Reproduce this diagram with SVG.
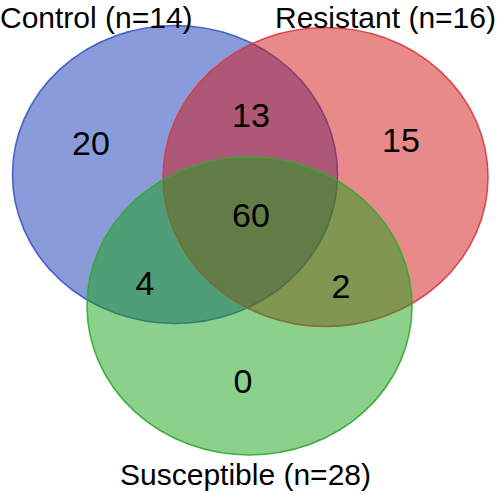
<svg xmlns="http://www.w3.org/2000/svg" width="500" height="494" viewBox="0 0 500 494">
<style>
.set{stroke-width:1.6}
.lbl{font-family:"Liberation Sans",Arial,sans-serif;font-size:30px;fill:#000}
.num{font-family:"Liberation Sans",Arial,sans-serif;font-size:34px;fill:#000;text-anchor:middle}
</style>
<rect width="500" height="494" fill="#fff"/>
<g id="control">
<ellipse class="set" cx="175" cy="174.5" rx="162.5" ry="149" fill="rgb(19,55,177)" fill-opacity="0.5" stroke="rgb(60,85,200)" stroke-opacity="0.9"/>
</g>
<g id="resistant">
<ellipse class="set" cx="325.5" cy="177" rx="162.5" ry="149.5" fill="rgb(209,21,21)" fill-opacity="0.5" stroke="rgb(220,55,65)" stroke-opacity="0.9"/>
</g>
<g id="susceptible">
<ellipse class="set" cx="249.5" cy="306" rx="162.5" ry="149" fill="rgb(23,161,23)" fill-opacity="0.5" stroke="rgb(50,170,50)" stroke-opacity="0.9"/>
</g>
<g id="labels">
<text class="lbl" x="0" y="27.5">Control (n=14)</text>
<text class="lbl" x="275" y="27.5">Resistant (n=16)</text>
<text class="lbl" x="120" y="485">Susceptible (n=28)</text>
</g>
<g id="counts">
<text class="num" x="91" y="155">20</text>
<text class="num" x="251" y="127">13</text>
<text class="num" x="401" y="152">15</text>
<text class="num" x="251" y="227">60</text>
<text class="num" x="145" y="295">4</text>
<text class="num" x="341" y="298">2</text>
<text class="num" x="243" y="393">0</text>
</g>
</svg>
